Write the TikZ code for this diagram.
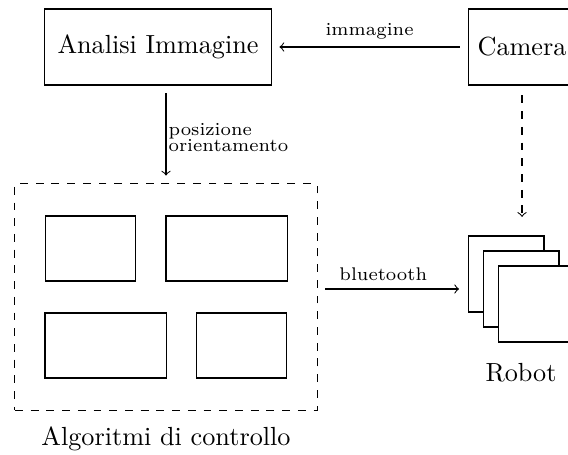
\documentclass[tikz,border=0pt]{standalone}
\usetikzlibrary{fit}
\begin{document}
\begin{tikzpicture}[x=0.3817pt,y=-0.3817pt,
  box/.style={draw, line width=0.4pt, minimum height=29pt, inner sep=3.33pt},
  sub/.style={draw, minimum height=24.8pt, inner sep=0pt},
  rb/.style={draw, fill=white, minimum size=29pt, inner sep=0pt},
  lbl/.style={font=\scriptsize},
  arr/.style={->, shorten >=3pt, shorten <=3pt}]
\useasboundingbox (0,0) rectangle (568,454);
% top row
\node[box, minimum width=86.3pt] (ana) at (158,47) {Analisi Immagine};
\node[box, minimum width=41.2pt] (cam) at (522,47) {Camera};
% control algorithms
\node[draw, dashed, minimum width=115.3pt, minimum height=86.3pt, inner sep=0pt] (algo) at (166,297) {};
\node[sub, minimum width=34.7pt] (s1) at (90.5,248.5) {};
\node[sub, minimum width=46.2pt] (s2) at (226.5,248.5) {};
\node[sub, minimum width=46.2pt] (s3) at (105.5,345.5) {};
\node[sub, minimum width=34.7pt] (s4) at (241.5,345.5) {};
\node (algolbl) at (166,439) {Algoritmi di controllo};
% robots
\node[rb] (r1) at (506,274) {};
\node[rb] (r2) at (521,289) {};
\node[rb] (r3) at (536,304) {};
\node[fit=(r1)(r3), inner sep=0pt] (robot) {};
\node (robotlbl) at (521,373) {Robot};
% connectors
\draw[arr] (cam.west) -- node[above, lbl, inner sep=2.8pt] {immagine} (ana.east);
\draw[arr] (ana.south -| algo.north) -- node[pos=0.53, anchor=west, lbl, align=left, inner sep=0pt, xshift=0.8pt] {posizione\\[-2pt]orientamento} (algo.north);
\draw[->, dashed, shorten <=3.8pt, shorten >=6.9pt] (cam.south) -- (cam.south |- robot.north);
\draw[arr] (algo.east |- robot.west) -- node[pos=0.44, above, lbl, inner sep=2.8pt] {bluetooth} (robot.west);
\end{tikzpicture}
\end{document}
